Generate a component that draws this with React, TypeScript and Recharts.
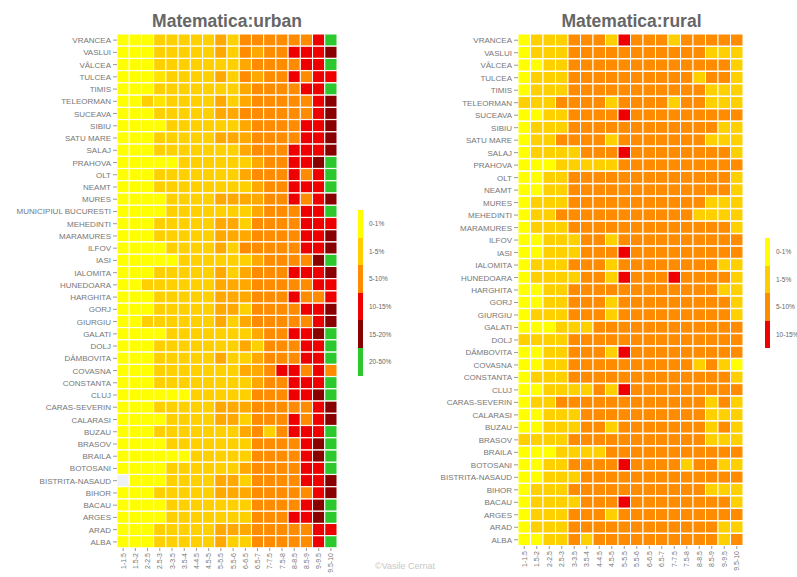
import React from 'react';
import { BarChart, Bar, XAxis, YAxis, Cell } from 'recharts';

// grade bands on the x axis
const bins = [
  '1-1.5', '1.5-2', '2-2.5', '2.5-3', '3-3.5', '3.5-4', '4-4.5', '4.5-5', '5-5.5',
  '5.5-6', '6-6.5', '6.5-7', '7-7.5', '7.5-8', '8-8.5', '8.5-9', '9-9.5', '9.5-10',
];

const urbanCounties = [
  'VRANCEA', 'VASLUI', 'VÂLCEA', 'TULCEA', 'TIMIS', 'TELEORMAN', 'SUCEAVA', 'SIBIU',
  'SATU MARE', 'SALAJ', 'PRAHOVA', 'OLT', 'NEAMT', 'MURES', 'MUNICIPIUL BUCURESTI',
  'MEHEDINTI', 'MARAMURES', 'ILFOV', 'IASI', 'IALOMITA', 'HUNEDOARA', 'HARGHITA', 'GORJ',
  'GIURGIU', 'GALATI', 'DOLJ', 'DÂMBOVITA', 'COVASNA', 'CONSTANTA', 'CLUJ', 'CARAS-SEVERIN',
  'CALARASI', 'BUZAU', 'BRASOV', 'BRAILA', 'BOTOSANI', 'BISTRITA-NASAUD', 'BIHOR', 'BACAU',
  'ARGES', 'ARAD', 'ALBA',
];

const ruralCounties = urbanCounties.filter((c) => c !== 'MUNICIPIUL BUCURESTI');

// % of candidates in each grade band
const urbanShares: (number | null)[][] = [
  [0.5, 0.5, 0.5, 3, 3, 3, 3, 3, 6, 3, 8, 8, 8, 8, 8, 8, 12, 25],
  [0.5, 0.5, 0.5, 3, 3, 3, 3, 3, 6, 3, 8, 6, 8, 8, 12, 12, 12, 17],
  [0.5, 0.5, 0.5, 3, 3, 3, 3, 3, 3, 3, 6, 8, 8, 8, 8, 12, 12, 25],
  [0.5, 0.5, 0.5, 1.5, 3, 3, 3, 3, 6, 3, 8, 6, 8, 8, 12, 8, 12, 12],
  [0.5, 0.5, 0.5, 3, 3, 3, 3, 3, 3, 3, 6, 8, 8, 8, 8, 12, 12, 25],
  [0.5, 0.5, 3, 1.5, 3, 3, 3, 3, 6, 3, 6, 8, 8, 8, 8, 8, 12, 17],
  [0.5, 0.5, 0.5, 3, 3, 3, 3, 3, 6, 6, 8, 8, 8, 8, 8, 8, 12, 17],
  [0.5, 0.5, 0.5, 0.5, 3, 3, 3, 3, 3, 3, 6, 8, 8, 8, 8, 12, 12, 17],
  [0.5, 0.5, 0.5, 3, 3, 3, 3, 3, 6, 6, 6, 8, 8, 8, 8, 12, 12, 17],
  [0.5, 0.5, 0.5, 3, 3, 3, 3, 3, 3, 3, 6, 8, 8, 8, 12, 12, 12, 17],
  [0.5, 0.5, 0.5, 0.5, 0.5, 3, 3, 3, 3, 3, 3, 6, 8, 8, 12, 12, 17, 25],
  [0.5, 0.5, 0.5, 3, 3, 3, 3, 3, 3, 3, 6, 8, 8, 8, 12, 8, 12, 25],
  [0.5, 0.5, 0.5, 3, 3, 3, 3, 3, 3, 3, 3, 6, 8, 8, 12, 12, 12, 25],
  [0.5, 0.5, 0.5, 0.5, 3, 3, 3, 3, 6, 6, 6, 6, 8, 8, 12, 8, 12, 17],
  [0.5, 0.5, 0.5, 0.5, 3, 3, 3, 3, 3, 3, 3, 6, 8, 8, 8, 12, 12, 25],
  [0.5, 0.5, 0.5, 3, 3, 3, 3, 3, 6, 6, 3, 8, 8, 8, 8, 12, 12, 12],
  [0.5, 0.5, 0.5, 3, 3, 3, 3, 3, 6, 6, 6, 8, 8, 8, 8, 12, 12, 17],
  [0.5, 0.5, 0.5, 0.5, 3, 3, 3, 3, 6, 3, 8, 8, 8, 8, 8, 12, 12, 17],
  [0.5, 0.5, 0.5, 0.5, 0.5, 3, 3, 3, 3, 3, 3, 6, 8, 8, 8, 8, 17, 25],
  [0.5, 0.5, 0.5, 3, 3, 3, 3, 3, 6, 3, 6, 8, 8, 8, 12, 12, 12, 17],
  [0.5, 0.5, 3, 3, 3, 3, 3, 3, 6, 6, 6, 8, 8, 8, 8, 8, 12, 12],
  [0.5, 0.5, 0.5, 3, 3, 3, 3, 3, 6, 6, 6, 8, 8, 8, 12, 8, 8, 12],
  [0.5, 0.5, 0.5, 3, 3, 3, 3, 3, 6, 6, 3, 8, 8, 8, 8, 12, 12, 17],
  [0.5, 0.5, 3, 3, 3, 3, 3, 3, 6, 3, 6, 8, 8, 8, 8, 8, 12, 17],
  [0.5, 0.5, 0.5, 0.5, 3, 3, 3, 3, 3, 3, 3, 6, 8, 8, 12, 12, 17, 25],
  [0.5, 0.5, 0.5, 3, 3, 3, 3, 3, 3, 3, 6, 3, 8, 8, 8, 12, 12, 25],
  [0.5, 0.5, 0.5, 3, 3, 3, 3, 3, 6, 3, 3, 6, 8, 8, 8, 12, 12, 25],
  [0.5, 0.5, 0.5, 3, 3, 3, 3, 3, 3, 3, 6, 6, 8, 12, 12, 8, 12, 8],
  [0.5, 0.5, 0.5, 3, 3, 3, 3, 3, 3, 3, 3, 6, 8, 8, 12, 12, 12, 25],
  [0.5, 0.5, 0.5, 0.5, 0.5, 0.5, 3, 3, 3, 3, 3, 8, 8, 8, 12, 12, 17, 25],
  [0.5, 0.5, 0.5, 3, 3, 3, 3, 3, 6, 6, 6, 8, 8, 8, 8, 8, 12, 17],
  [0.5, 0.5, 0.5, 0.5, 3, 3, 3, 3, 6, 6, 3, 8, 8, 8, 12, 8, 12, 17],
  [0.5, 0.5, 0.5, 3, 3, 3, 3, 3, 3, 3, 6, 8, 3, 8, 12, 12, 12, 25],
  [0.5, 0.5, 0.5, 0.5, 3, 3, 3, 3, 3, 3, 3, 8, 8, 8, 8, 12, 17, 25],
  [0.5, 0.5, 0.5, 0.5, 0.5, 0.5, 3, 3, 3, 3, 3, 8, 8, 8, 8, 12, 17, 25],
  [0.5, 0.5, 0.5, 0.5, 3, 3, 3, 3, 3, 3, 6, 8, 8, 8, 8, 12, 12, 25],
  [null, 0.5, 0.5, 0.5, 3, 3, 3, 3, 6, 6, 3, 8, 8, 8, 8, 12, 12, 17],
  [0.5, 0.5, 0.5, 3, 3, 3, 3, 3, 6, 6, 6, 8, 8, 8, 8, 8, 12, 17],
  [0.5, 0.5, 0.5, 0.5, 3, 3, 3, 3, 3, 3, 3, 8, 8, 8, 8, 12, 17, 25],
  [0.5, 0.5, 0.5, 0.5, 3, 3, 3, 3, 3, 3, 3, 8, 8, 8, 12, 12, 17, 25],
  [0.5, 0.5, 0.5, 3, 3, 3, 3, 3, 6, 6, 6, 8, 8, 8, 8, 8, 12, 12],
  [0.5, 0.5, 0.5, 3, 3, 3, 3, 3, 6, 3, 3, 8, 8, 8, 8, 8, 12, 25],
];

const ruralShares: (number | null)[][] = [
  [0.5, 3, 3, 3, 8, 8, 8, 3, 12, 8, 8, 8, 3, 8, 8, 8, 8, 8],
  [0.5, 3, 3, 3, 8, 8, 8, 8, 8, 8, 8, 8, 8, 8, 8, 3, 3, 3],
  [0.5, 0.5, 3, 3, 8, 8, 8, 8, 8, 8, 8, 8, 8, 8, 8, 8, 8, 3],
  [0.5, 3, 3, 3, 8, 8, 8, 8, 8, 8, 8, 8, 8, 8, 3, 8, 8, 3],
  [0.5, 3, 3, 3, 8, 8, 8, 8, 8, 8, 8, 8, 8, 8, 8, 3, 3, 3],
  [3, 3, 3, 8, 8, 8, 8, 3, 8, 8, 8, 8, 3, 8, 8, 3, 3, 3],
  [0.5, 0.5, 3, 3, 8, 8, 8, 8, 12, 8, 8, 8, 8, 8, 8, 8, 8, 8],
  [0.5, 3, 3, 3, 8, 8, 8, 8, 8, 8, 8, 8, 8, 8, 8, 8, 3, 3],
  [0.5, 3, 3, 8, 8, 8, 8, 3, 8, 8, 8, 8, 8, 8, 8, 3, 3, 3],
  [0.5, 3, 3, 3, 3, 8, 8, 8, 12, 8, 8, 8, 8, 8, 8, 8, 8, 3],
  [0.5, 0.5, 0.5, 3, 3, 3, 3, 3, 8, 8, 8, 8, 8, 8, 8, 8, 8, 8],
  [0.5, 0.5, 3, 3, 8, 8, 8, 8, 8, 8, 8, 8, 8, 8, 8, 8, 8, 3],
  [0.5, 0.5, 3, 3, 8, 8, 8, 8, 8, 8, 8, 8, 8, 8, 8, 8, 8, 3],
  [0.5, 3, 3, 3, 8, 8, 8, 8, 8, 8, 8, 8, 8, 8, 8, 3, 3, 3],
  [0.5, 3, 3, 8, 8, 8, 8, 8, 8, 8, 8, 8, 8, 8, 3, 3, 3, 3],
  [0.5, 3, 3, 3, 8, 8, 8, 8, 8, 8, 8, 8, 8, 8, 8, 8, 8, 3],
  [0.5, 0.5, 3, 3, 3, 8, 8, 3, 8, 8, 8, 8, 8, 8, 8, 8, 8, 8],
  [0.5, 0.5, 3, 3, 3, 8, 8, 8, 12, 8, 8, 8, 8, 8, 8, 8, 8, 8],
  [0.5, 3, 3, 3, 8, 8, 8, 3, 8, 8, 8, 8, 8, 8, 8, 8, 3, 3],
  [0.5, 3, 3, 3, 3, 8, 8, 3, 12, 8, 8, 8, 12, 8, 8, 8, 8, 3],
  [0.5, 0.5, 3, 3, 8, 8, 8, 8, 8, 8, 8, 8, 8, 8, 8, 8, 3, 3],
  [0.5, 0.5, 3, 3, 8, 8, 8, 3, 8, 8, 8, 8, 8, 8, 8, 8, 8, 3],
  [0.5, 3, 3, 3, 8, 8, 8, 3, 8, 8, 8, 8, 8, 8, 8, 8, 8, 3],
  [0.5, 0.5, 0.5, 3, 3, 3, 8, 8, 8, 8, 8, 8, 8, 8, 8, 8, 8, 8],
  [3, 3, 3, 3, 8, 8, 8, 8, 8, 8, 8, 8, 8, 8, 8, 8, 8, 8],
  [0.5, 0.5, 3, 3, 8, 8, 8, 3, 12, 8, 8, 8, 8, 8, 8, 8, 8, 8],
  [0.5, 0.5, 3, 3, 8, 8, 8, 8, 8, 8, 8, 8, 8, 8, 3, 8, 3, 0.5],
  [0.5, 3, 3, 3, 8, 8, 8, 8, 8, 8, 8, 8, 8, 8, 8, 8, 8, 3],
  [0.5, 0.5, 3, 3, 3, 3, 8, 3, 12, 8, 8, 8, 8, 8, 8, 8, 8, 8],
  [0.5, 3, 3, 8, 8, 8, 8, 8, 8, 8, 8, 8, 8, 8, 8, 3, 8, 3],
  [0.5, 0.5, 3, 3, 3, 8, 8, 8, 8, 8, 8, 8, 8, 8, 8, 3, 3, 3],
  [0.5, 0.5, 3, 3, 3, 8, 8, 3, 8, 8, 8, 8, 8, 8, 8, 3, 8, 3],
  [3, 3, 3, 3, 8, 8, 8, 8, 8, 8, 8, 8, 8, 8, 8, 3, 3, 3],
  [0.5, 0.5, 0.5, 3, 3, 3, 3, 8, 8, 8, 8, 8, 8, 8, 8, 8, 8, 8],
  [0.5, 0.5, 3, 3, 8, 8, 8, 8, 12, 8, 8, 8, 8, 3, 8, 8, 3, 3],
  [0.5, 0.5, 3, 3, 3, 8, 8, 8, 8, 8, 8, 8, 8, 8, 8, 8, 8, 8],
  [0.5, 3, 3, 3, 8, 8, 8, 8, 8, 8, 8, 8, 8, 8, 8, 3, 3, 3],
  [0.5, 3, 3, 3, 3, 8, 8, 8, 12, 8, 8, 8, 8, 8, 8, 8, 8, 3],
  [0.5, 3, 3, 3, 8, 8, 8, 3, 8, 8, 8, 8, 8, 8, 8, 8, 8, 8],
  [0.5, 3, 3, 3, 8, 8, 8, 8, 8, 8, 8, 8, 8, 8, 8, 8, 3, 3],
  [0.5, 0.5, 3, 3, 8, 3, 8, 8, 8, 8, 8, 8, 8, 8, 8, 8, 3, 8],
];

const legendLabels = ['0-1%', '1-5%', '5-10%', '10-15%', '15-20%', '20-50%'];
const legendColors = ['#FFFF00', '#FFCC00', '#FF8C00', '#EE0000', '#880000', '#2DC82D'];

const shareColor = (v: number | null) => {
  if (v == null) return '#eef1f6';
  if (v < 1) return '#FFFF00';
  if (v < 2) return '#FFE400';
  if (v < 5) return '#FFD000';
  if (v < 7) return '#FFA800';
  if (v < 10) return '#FF8C00';
  if (v < 15) return '#EE0000';
  if (v < 20) return '#880000';
  return '#2DC82D';
};

const FONT = '"Liberation Sans", Arial, sans-serif';

const BinTick = ({ x, y, payload }: any) => (
  <g transform={`translate(${x},${y})`}>
    <text transform="rotate(-90)" textAnchor="end" dy={2.5} fontSize={7} fill="#777" fontFamily={FONT}>
      {bins[Math.floor(payload.value)]}
    </text>
  </g>
);

// plain svg text so long names stay on one line
const CountyTick = ({ x, y, payload }: any) => (
  <text x={x} y={y} dy={3} textAnchor="end" fontSize={8} fill="#777" fontFamily={FONT}>
    {payload.value}
  </text>
);

interface PanelProps {
  counties: string[];
  shares: (number | null)[][];
  width: number;
  yWidth: number;
  right: number;
  xHeight: number;
}

const HeatPanel = ({ counties, shares, width, yWidth, right, xHeight }: PanelProps) => {
  const rows = counties.map((county) => {
    const row: Record<string, any> = { county };
    bins.forEach((_, j) => { row['b' + j] = 1; });
    return row;
  });
  return (
    <BarChart
      width={width}
      height={577}
      layout="vertical"
      data={rows}
      margin={{ top: 34, right, bottom: 0, left: 0 }}
      barCategoryGap={0}
      barGap={0}
    >
      <XAxis
        type="number"
        domain={[0, bins.length]}
        ticks={bins.map((_, j) => j + 0.5)}
        interval={0}
        height={xHeight}
        tick={<BinTick />}
        tickSize={3}
        tickLine={{ stroke: '#999' }}
        axisLine={false}
      />
      <YAxis
        type="category"
        dataKey="county"
        width={yWidth}
        interval={0}
        tickSize={4}
        tickLine={{ stroke: '#999' }}
        axisLine={false}
        tick={<CountyTick />}
      />
      {bins.map((b, j) => (
        <Bar key={b} dataKey={'b' + j} stackId="s" stroke="#fff" strokeWidth={1} isAnimationActive={false}>
          {rows.map((r, i) => (
            <Cell key={r.county} fill={shareColor(shares[i][j])} />
          ))}
        </Bar>
      ))}
    </BarChart>
  );
};

const Legend = ({ n, left, top }: { n: number; left: number; top: number }) => (
  <div style={{ position: 'absolute', left, top }}>
    {legendLabels.slice(0, n).map((l, i) => (
      <div key={l} style={{ display: 'flex', alignItems: 'center', height: 27.6 }}>
        <div style={{ width: 5, height: 27.6, background: legendColors[i] }} />
        <span style={{ marginLeft: 6, fontSize: 6.5, color: '#666', fontFamily: FONT, whiteSpace: 'nowrap' }}>{l}</span>
      </div>
    ))}
  </div>
);

const titleStyle: React.CSSProperties = {
  position: 'absolute',
  top: 11,
  width: 220,
  textAlign: 'center',
  fontSize: 17.5,
  fontWeight: 'bold',
  color: '#666',
  fontFamily: FONT,
  whiteSpace: 'nowrap',
};

export default function App() {
  return (
    <div style={{ position: 'absolute', left: 0, top: 0, width: 797, height: 577, background: '#fff', overflow: 'hidden' }}>
      <div style={{ position: 'absolute', left: 0, top: 0 }}>
        <HeatPanel counties={urbanCounties} shares={urbanShares} width={340} yWidth={117} right={3} xHeight={29} />
      </div>
      <div style={{ ...titleStyle, left: 117 }}>Matematica:urban</div>
      <Legend n={6} left={358} top={210} />

      <div style={{ position: 'absolute', left: 400, top: 0 }}>
        <HeatPanel counties={ruralCounties} shares={ruralShares} width={345} yWidth={118} right={2} xHeight={31} />
      </div>
      <div style={{ ...titleStyle, left: 519, width: 225 }}>Matematica:rural</div>
      <Legend n={4} left={765} top={238} />

      <div style={{ position: 'absolute', left: 375, top: 561, fontSize: 9, color: '#c8c8c8', fontFamily: FONT }}>
        ©Vasile Cernat
      </div>
    </div>
  );
}
